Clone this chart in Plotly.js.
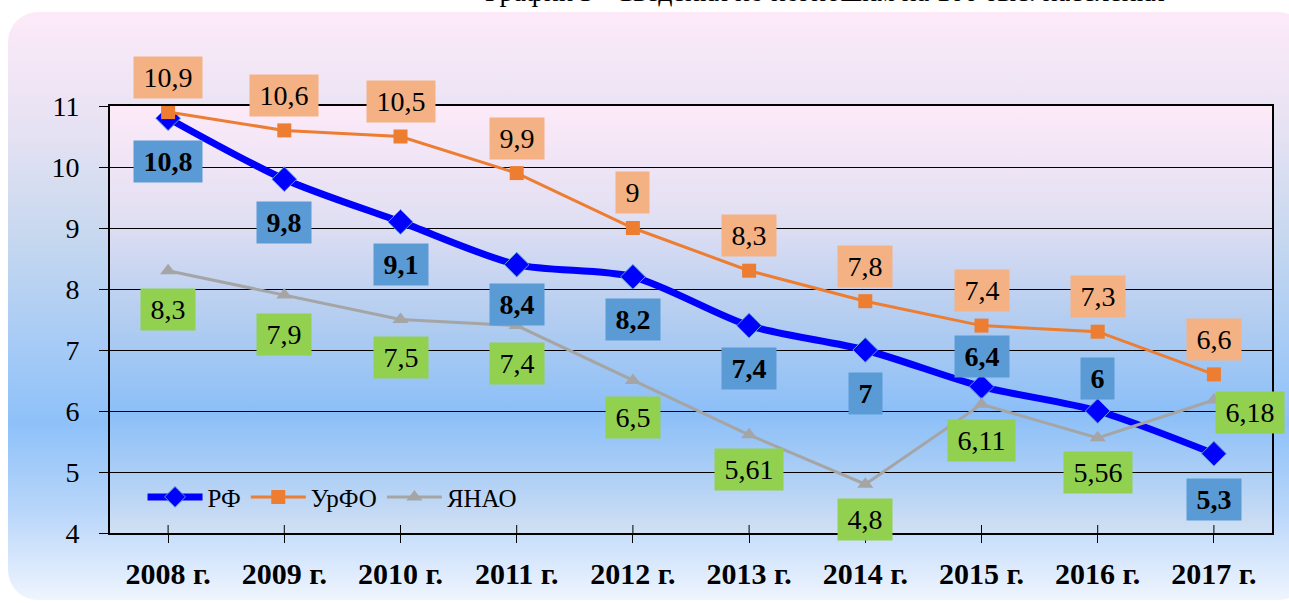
<!DOCTYPE html>
<html>
<head>
<meta charset="utf-8">
<script src="https://cdn.plot.ly/plotly-3.0.1.min.js"></script>
<style>
  html, body { margin: 0; padding: 0; width: 1289px; height: 603px; overflow: hidden; background: #ffffff; }
  #outer { position: absolute; left: 8px; top: 12px; width: 1300px; height: 588px; border-radius: 30px;
    background: linear-gradient(to bottom, #fdeaf8 0%, #e6e2f3 20%, #c7d8ef 38%, #a9ccf5 55%, #8ec1f9 70%, #b9d6fa 85%, #eff5fe 100%); }
  #plotbg { position: absolute; left: 110px; top: 106px; width: 1162px; height: 427px;
    background: linear-gradient(to bottom, #fdeaf8 0%, #e3e0f3 25%, #b3cdf0 50%, #8bbff8 72%, #a9cdf6 85%, #d1e0f3 100%); }
  #chart { position: absolute; left: 0; top: 0; width: 1289px; height: 603px; }
</style>
</head>
<body>
<div id="outer"></div>
<div id="plotbg"></div>
<div id="chart"></div>
<script>
// ---- data ----
const years = ["2008 г.", "2009 г.", "2010 г.", "2011 г.", "2012 г.", "2013 г.", "2014 г.", "2015 г.", "2016 г.", "2017 г."];
const rf    = [10.8, 9.8, 9.1, 8.4, 8.2, 7.4, 7, 6.4, 6, 5.3];
const urfo  = [10.9, 10.6, 10.5, 9.9, 9, 8.3, 7.8, 7.4, 7.3, 6.6];
const yanao = [8.3, 7.9, 7.5, 7.4, 6.5, 5.61, 4.8, 6.11, 5.56, 6.18];
const seriesNames = ["РФ", "УрФО", "ЯНАО"];
const titleText = "График 3 «Сведения по погибшим на 100 тыс. населения»";

// ---- label placement (styling) ----
const rfShift    = [-43, -43, -43, -40, -43, -43, -43, 30, 33, -46];
const urfoShift  = [35, 35, 35, 35, 36, 35, 35, 35, 35, 35];
const yanaoShift = [-39, -39, -38, -38, -37, -35, -35, -36, -35, -12];
const yanaoXShift = [0, 0, 0, 0, 0, 0, 0, 0, 0, 36];

const FONT = "'Liberation Serif', 'Times New Roman', Tinos, 'DejaVu Serif', 'Noto Serif', serif";
const fmt = v => String(v).replace(".", ",");

const cv = document.createElement("canvas").getContext("2d");
function tw(s, bold) { cv.font = (bold ? "bold " : "") + "28px " + FONT; return cv.measureText(s).width; }

function labels(vals, shifts, xshifts, bg, bold) {
  return vals.map((v, i) => {
    const t = fmt(v);
    return {
      x: years[i], y: v, xref: "x", yref: "y", text: bold ? "<b>" + t + "</b>" : t,
      showarrow: false, yshift: shifts[i], xshift: xshifts ? xshifts[i] : 0,
      bgcolor: bg, borderpad: 5, width: Math.round(tw(t, bold) + 9),
      font: { family: FONT, size: 28, color: "#000000" }
    };
  });
}

const traces = [
  { x: years, y: rf, name: seriesNames[0], type: "scatter", mode: "lines+markers",
    line: { color: "#0000ff", width: 7, shape: "spline", smoothing: 0.8 },
    marker: { symbol: "diamond", size: 19, color: "#0000ff", line: { color: "#5b9bd5", width: 1 } } },
  { x: years, y: urfo, name: seriesNames[1], type: "scatter", mode: "lines+markers",
    line: { color: "#ed7d31", width: 3 },
    marker: { symbol: "square", size: 14, color: "#ed7d31" } },
  { x: years, y: yanao, name: seriesNames[2], type: "scatter", mode: "lines+markers",
    line: { color: "#a5a5a5", width: 3 },
    marker: { symbol: "triangle-up", size: 14, color: "#a5a5a5" } }
];

const ann = [].concat(
  labels(urfo, urfoShift, null, "#f4b183", false),
  labels(yanao, yanaoShift, yanaoXShift, "#92d050", false),
  labels(rf, rfShift, null, "#5b9bd5", true),
  [{ text: titleText, xref: "paper", yref: "paper", x: 0.321, y: 1.226, xanchor: "left", yanchor: "bottom",
     showarrow: false, font: { family: FONT, size: 28, color: "#000000" } }]
);

const innerTicks = years.map(c => ({
  type: "line", xref: "x", yref: "paper", x0: c, x1: c, ysizemode: "pixel", yanchor: 0, y0: 0, y1: 8,
  line: { color: "#000000", width: 1 }
}));

const layout = {
  width: 1289, height: 603,
  margin: { l: 110, r: 17, t: 106, b: 70 },
  paper_bgcolor: "rgba(0,0,0,0)", plot_bgcolor: "rgba(0,0,0,0)",
  font: { family: FONT },
  showlegend: true,
  legend: { orientation: "h", x: 0.028, y: 0.084, xanchor: "left", yanchor: "middle",
    bgcolor: "rgba(0,0,0,0)", itemwidth: 55, font: { family: FONT, size: 25, color: "#000000" } },
  xaxis: { type: "category", range: [-0.5, 9.5], showgrid: false, showline: true, mirror: true, linecolor: "#000000", linewidth: 2,
    ticks: "outside", ticklen: 8, tickcolor: "#000000", tickwidth: 1,
    tickfont: { family: FONT, size: 30, color: "#000000", weight: "bold" }, ticklabelstandoff: 5 },
  yaxis: { range: [4, 11], dtick: 1, showgrid: true, gridcolor: "#000000", gridwidth: 1,
    showline: true, mirror: true, linecolor: "#000000", linewidth: 2, zeroline: false,
    ticks: "outside", ticklen: 9, tickcolor: "#000000", tickwidth: 1, ticklabelstandoff: 14,
    tickfont: { family: FONT, size: 28, color: "#000000" } },
  annotations: ann,
  shapes: innerTicks
};

Plotly.newPlot("chart", traces, layout, { displayModeBar: false, staticPlot: true });
</script>
</body>
</html>
